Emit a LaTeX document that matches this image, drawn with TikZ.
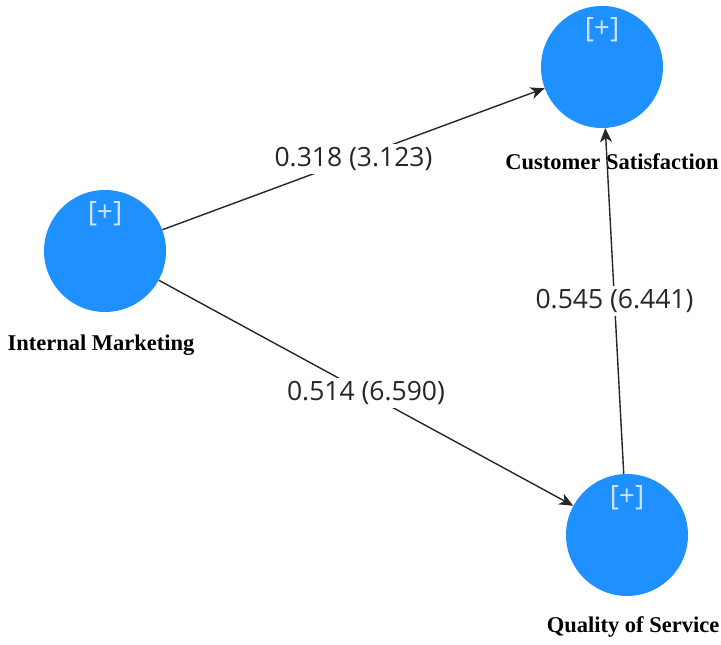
\documentclass[tikz,border=0pt]{standalone}
\usepackage{fontspec}
\setmainfont{Liberation Serif}
\newfontfamily\weightfont{Open Sans}
\usetikzlibrary{positioning, arrows.meta}
\definecolor{constructblue}{RGB}{30,144,255}
\definecolor{plustext}{RGB}{205,228,255}

\begin{document}
\begin{tikzpicture}[x=1pt, y=1pt, >={Stealth[length=14pt, width=12pt, inset=4pt]},
	construct/.style={circle, fill=constructblue, minimum size=122pt, inner sep=0pt},
	plus/.style={text=plustext, inner sep=0pt, font=\weightfont\fontsize{28}{28}\selectfont},
	varname/.style={inner sep=0pt, font=\bfseries\fontsize{22.5}{22.5}\selectfont},
	weight/.style={fill=white, inner sep=3pt, text=black!85, font=\weightfont\fontsize{26.5}{26.5}\selectfont}]
	
	\useasboundingbox (0,0) rectangle (721,645);
	
	\begin{scope}
	\node[construct] (IM) at (105,394) {};
	\node[construct] (CS) at (602,578) {};
	\node[construct] (QS) at (627,110) {};
	
	\node[plus] (IMp) at ([yshift=-24pt]IM.north) {[+]};
	\node[plus] (CSp) at ([yshift=-24pt]CS.north) {[+]};
	\node[plus] (QSp) at ([yshift=-24pt]QS.north) {[+]};
	
	\node[varname] (IMn) at (101,300) {Internal Marketing};
	\node[varname] (CSn) at (612,483) {Customer Satisfaction};
	\node[varname] (QSn) at (633,18) {Quality of Service};
	\end{scope}
	
	\path[->, line width=1.4pt, black!85] (IM) edge node[weight] {0.318 (3.123)} (CS);
	
	\path[->, line width=1.4pt, black!85] (IM) edge node[weight] {0.514 (6.590)} (QS);
	
	\path[->, line width=1.4pt, black!85] (QS) edge node[weight] {0.545 (6.441)} (CS);
\end{tikzpicture}
\end{document}
